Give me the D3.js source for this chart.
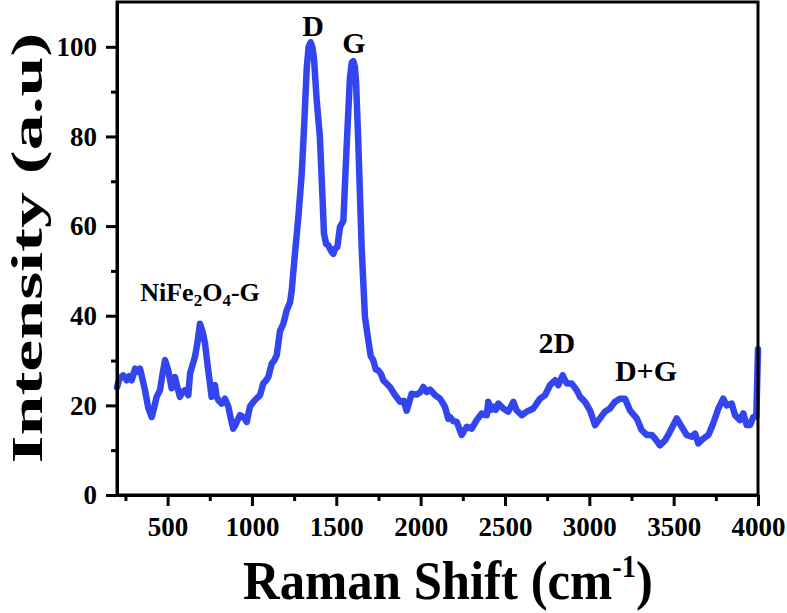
<!DOCTYPE html>
<html>
<head>
<meta charset="utf-8">
<script src="https://cdn.jsdelivr.net/npm/d3@7"></script>
<style>
html,body{margin:0;padding:0;background:#fff;}
svg{display:block;}
text{font-family:"Liberation Serif","Times New Roman",serif;font-weight:bold;fill:#000;}
</style>
</head>
<body>
<svg id="chart" width="787" height="613"></svg>
<script>
// Raman shift (cm-1)
const shift = [200,215,237,257,272,287,307,322,336,350,366,385,406,420,435,455,470,485,504,524,544,558,573,588,603,623,633,648,662,677,692,707,722,737,751,761,781,790,800,820,840,860,875,889,900,910,929,949,969,988,1003,1018,1048,1067,1082,1097,1117,1132,1147,1166,1186,1206,1226,1236,1255,1275,1295,1309,1325,1336,1348,1358,1368,1384,1403,1419,1427,1440,1453,1468,1482,1494,1506,1522,1542,1562,1581,1592,1601,1610,1617,1630,1651,1670,1690,1704,1719,1734,1749,1765,1779,1789,1818,1848,1878,1900,1917,1947,1977,2000,2016,2036,2056,2085,2115,2144,2164,2174,2194,2214,2243,2273,2303,2332,2362,2392,2401,2416,2431,2446,2461,2490,2520,2550,2569,2599,2629,2668,2708,2738,2767,2797,2816,2842,2866,2895,2925,2945,2974,3004,3034,3063,3093,3122,3152,3182,3211,3241,3281,3310,3340,3370,3389,3419,3449,3478,3518,3548,3577,3607,3627,3646,3676,3706,3735,3765,3794,3814,3844,3864,3893,3913,3933,3953,3972,3990,4000];
// Intensity (a.u)
const intensity = [24,26,26.7,25.6,26.5,25.6,28.2,27.5,28.2,26,23.4,19.5,17.4,19.5,21.9,23.4,27,30.1,27.8,23.8,26.3,24,21.9,23,23.4,22.3,27.1,29,30.8,34,38.2,36.5,33.8,29,24.9,21.9,24.5,22,21.2,20.4,21.5,19.7,17,14.8,15.5,16.3,17.8,17.4,16.3,19.7,20.5,21.2,22.3,24.9,25.5,26.3,29.3,30,31.2,36.5,38.2,41.2,43,45.7,53.9,62,71.6,82,95.4,100,101,100,97.3,88,79.8,65.7,58.3,56,55.7,54.5,53.8,55,55.3,59.8,61.2,78.3,93.2,96.5,96.8,95.5,92.4,79.1,54.6,39.7,34.5,31,30.1,28,27.8,27,25.6,25.2,24.1,22.3,20.8,21,18.8,22.6,22.4,23,24.1,23,23.5,22.3,21.5,19.7,17,17.4,16.5,16.3,13.4,15.2,14.8,16.7,18.2,17.8,20.8,19,19.7,19,20.4,19.3,18.6,20.8,18.9,17.8,18.6,19.3,21.5,22.3,24.5,25.6,24.5,26.7,24.9,24.9,23.4,21.9,20.8,18.9,15.6,17.1,18.6,19.3,20.8,21.5,21.5,18.9,17.1,14.5,13.4,13.4,12.6,11.1,12.2,14.1,17.1,15.2,13.4,13,13.7,11.5,12.6,13.4,16,19.3,21.5,20,20.4,17.8,16.7,18.2,15.6,15.6,17.4,17.5,32.5];

const xTicks = [500,1000,1500,2000,2500,3000,3500,4000];
const xMinorTicks = [250,750,1250,1750,2250,2750,3250,3750];
const yTicks = [0,20,40,60,80,100];
const yMinorTicks = [10,30,50,70,90];

// peak annotations
const peakNames = ["D","G","2D","D+G"];
const peakX = [1362,1605,2808,3336];
const peakY = [102.4,98.7,31.6,25.4];
const ferriteX = 692, ferriteY = 43.2;

const svg = d3.select("#chart");
const L = 117, R = 758, T = 2, B = 495;
const x = d3.scaleLinear().domain([200,4000]).range([L,R]);
const y = d3.scaleLinear().domain([0,110]).range([B,T]);

// line
const data = shift.map((s,i)=>({x:s,y:intensity[i]}));
svg.append("path")
  .datum(data)
  .attr("fill","none")
  .attr("stroke","#3345ef")
  .attr("stroke-width",6.5)
  .attr("stroke-linejoin","round")
  .attr("stroke-linecap","round")
  .attr("d", d3.line().x(d=>x(d.x)).y(d=>y(d.y)));

// frame
svg.append("rect")
  .attr("x",L).attr("y",T).attr("width",R-L).attr("height",B-T)
  .attr("fill","none").attr("stroke","#000").attr("stroke-width",3);

function styleAxis(g){
  g.select(".domain").attr("stroke","#000").attr("stroke-width",3);
  g.selectAll(".tick line").attr("stroke","#000").attr("stroke-width",3);
}

// x axis
const gx = svg.append("g").attr("transform",`translate(0,${B})`)
  .call(d3.axisBottom(x).tickValues(xTicks).tickSize(11).tickSizeOuter(0).tickPadding(11).tickFormat(d3.format("d")));
styleAxis(gx);
gx.selectAll(".tick text").attr("font-size",27).attr("font-family","Liberation Serif").attr("font-weight","bold").attr("fill","#000");
const gxm = svg.append("g").attr("transform",`translate(0,${B})`)
  .call(d3.axisBottom(x).tickValues(xMinorTicks).tickSize(6).tickSizeOuter(0).tickFormat(""));
styleAxis(gxm); gxm.select(".domain").remove();

// y axis
const gy = svg.append("g").attr("transform",`translate(${L},0)`)
  .call(d3.axisLeft(y).tickValues(yTicks).tickSize(11).tickSizeOuter(0).tickPadding(9).tickFormat(d3.format("d")));
styleAxis(gy);
gy.selectAll(".tick text").attr("font-size",27).attr("font-family","Liberation Serif").attr("font-weight","bold").attr("fill","#000");
const gym = svg.append("g").attr("transform",`translate(${L},0)`)
  .call(d3.axisLeft(y).tickValues(yMinorTicks).tickSize(6).tickSizeOuter(0).tickFormat(""));
styleAxis(gym); gym.select(".domain").remove();

// peak labels
peakNames.forEach((n,i)=>{
  svg.append("text").attr("x",x(peakX[i])).attr("y",y(peakY[i]))
    .attr("text-anchor","middle").attr("font-size",30).text(n);
});
const ft = svg.append("text").attr("x",x(ferriteX)).attr("y",y(ferriteY))
  .attr("text-anchor","middle").attr("font-size",26);
ft.append("tspan").text("NiFe");
ft.append("tspan").attr("font-size",17).attr("dy",5).text("2");
ft.append("tspan").attr("dy",-5).text("O");
ft.append("tspan").attr("font-size",17).attr("dy",5).text("4");
ft.append("tspan").attr("dy",-5).text("-G");

// x title
const xt = svg.append("g");
const xtt = xt.append("text").attr("text-anchor","middle").attr("font-size",50);
xtt.append("tspan").text("Raman Shift (cm");
xtt.append("tspan").attr("font-size",28).attr("dy",-20).text("-1");
xtt.append("tspan").attr("dy",20).text(")");
const xw = xtt.node().getBBox().width;
xt.attr("transform",`translate(448,599) scale(${410/xw},1.1)`);

// y title
const yt = svg.append("g");
const ytt = yt.append("text").attr("text-anchor","middle").attr("font-size",44).text("Intensity (a.u)");
const yw = ytt.node().getBBox().width;
yt.attr("transform",`translate(42,248) rotate(-90) scale(${431/yw},1)`);
</script>
</body>
</html>
